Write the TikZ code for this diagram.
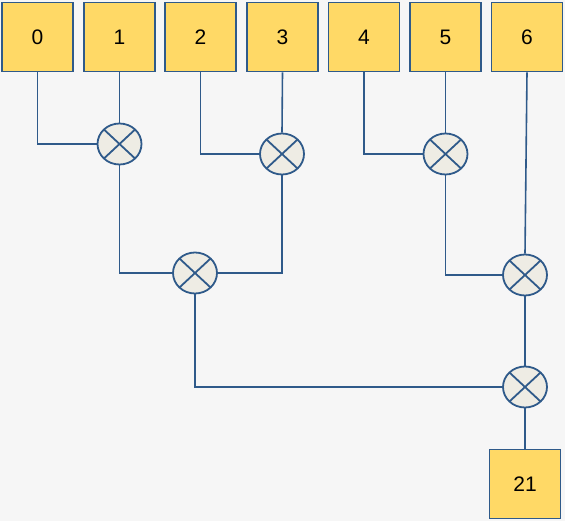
\documentclass[tikz,border=0pt]{standalone}
\usepackage{fontspec}
\setmainfont{Liberation Sans}
\usetikzlibrary{shapes.geometric}
\definecolor{bg}{HTML}{F6F6F6}
\definecolor{edge}{HTML}{2F5A8A}
\definecolor{boxfill}{HTML}{FFD966}
\definecolor{mulfill}{HTML}{EEECE4}
\begin{document}
\begin{tikzpicture}[x=1pt,y=-1pt,
  numbox/.style={draw=edge,line width=1.8pt,fill=boxfill,minimum width=71pt,minimum height=69pt,inner sep=0pt,font=\fontsize{21}{24}\selectfont},
  mul/.style={ellipse,draw=edge,line width=1.8pt,fill=mulfill,minimum width=44pt,minimum height=41pt,inner sep=0pt,
    path picture={\draw[edge,line width=1.8pt] (path picture bounding box.north west) -- (path picture bounding box.south east)
      (path picture bounding box.north east) -- (path picture bounding box.south west);}},
  wire/.style={draw=edge,line width=1.6pt}]
\fill[bg] (0,0) rectangle (565,521);
\useasboundingbox (0,0) rectangle (565,521);
\node[numbox] (b0) at (37.5,37) {0};
\node[numbox] (b1) at (119.5,37) {1};
\node[numbox] (b2) at (200.5,37) {2};
\node[numbox] (b3) at (282.5,37) {3};
\node[numbox] (b4) at (364,37) {4};
\node[numbox] (b5) at (445.5,37) {5};
\node[numbox] (b6) at (527,37) {6};
\node[numbox] (out) at (525,484) {21};
\node[mul] (m1) at (119.5,144) {};
\node[mul] (m2) at (282,154) {};
\node[mul] (m3) at (445.5,154) {};
\node[mul] (m4) at (195,273) {};
\node[mul] (m5) at (525,275) {};
\node[mul] (m6) at (525,387) {};
\begin{scope}[on background layer/.style={}]
\path[wire] (b0.south) |- (m1.west);
\path[wire] (b1.south) -- (m1.north);
\path[wire] (b2.south) |- (m2.west);
\path[wire] (b3.south) -- (m2.north);
\path[wire] (b4.south) |- (m3.west);
\path[wire] (b5.south) -- (m3.north);
\path[wire] (m1.south) |- (m4.west);
\path[wire] (m2.south) |- (m4.east);
\path[wire] (m3.south) |- (m5.west);
\path[wire] (b6.south) -- (m5.north);
\path[wire] (m5.south) -- (m6.north);
\path[wire] (m4.south) |- (m6.west);
\path[wire] (m6.south) -- (out.north);
\end{scope}
\end{tikzpicture}
\end{document}
